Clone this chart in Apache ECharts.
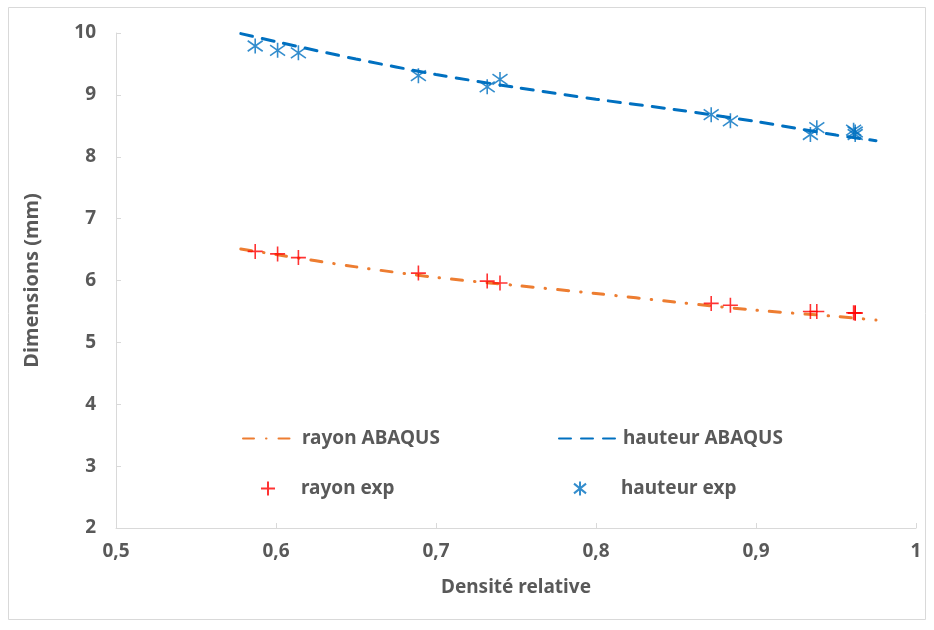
<!DOCTYPE html>
<html>
<head>
<meta charset="utf-8">
<script src="https://cdn.jsdelivr.net/npm/echarts@6/dist/echarts.min.js"></script>
<style>html,body{margin:0;padding:0;background:#fff}#c{width:934px;height:630px}</style>
</head>
<body>
<div id="c"></div>
<script>
// ---- data ----
var abaqusX = [0.578, 0.6, 0.65, 0.7, 0.75, 0.8, 0.85, 0.9, 0.95, 0.975];
var rayonAbaqus = [6.51, 6.42, 6.22, 6.05, 5.92, 5.79, 5.65, 5.52, 5.42, 5.36];
var hauteurAbaqus = [9.99, 9.86, 9.58, 9.33, 9.12, 8.93, 8.76, 8.57, 8.35, 8.26];
var expX = [0.587, 0.601, 0.614, 0.689, 0.732, 0.740, 0.872, 0.884, 0.934, 0.938, 0.961, 0.962, 0.962];
var rayonExp = [6.47, 6.43, 6.37, 6.12, 5.99, 5.96, 5.63, 5.60, 5.50, 5.50, 5.48, 5.47, 5.48];
var hauteurExp = [9.79, 9.72, 9.68, 9.31, 9.13, 9.25, 8.68, 8.58, 8.36, 8.47, 8.43, 8.36, 8.40];
var xTicks = {0.5: '0,5', 0.6: '0,6', 0.7: '0,7', 0.8: '0,8', 0.9: '0,9', 1: '1'};
var names = ['rayon ABAQUS', 'hauteur ABAQUS', 'rayon exp', 'hauteur exp'];

function pairs(xs, ys) { return xs.map(function (x, i) { return [x, ys[i]]; }); }

var FONT = 'Noto Sans';
var GREY = '#595959';
var plusPath = 'path://M5,0L5,10M0,5L10,5';
var starPath = 'path://M5,0L5,10M0.7,1.5L9.3,8.5M0.7,8.5L9.3,1.5';

function legendBox(name, left, top, w, pad, hideSymbol) {
  var o = {
    data: [name], left: left, top: top, itemWidth: w, itemHeight: 14, itemGap: 0,
    selectedMode: false,
    formatter: '{a|{name}}',
    textStyle: {
      fontFamily: FONT, fontWeight: 'bold', fontSize: 19, color: GREY,
      rich: { a: { fontFamily: FONT, fontWeight: 'bold', fontSize: 19, color: GREY, padding: [0, 0, 0, pad] } }
    }
  };
  if (hideSymbol) o.itemStyle = { opacity: 0 };
  return o;
}

var chart = echarts.init(document.getElementById('c'), null, { renderer: 'canvas' });
chart.setOption({
  animation: false,
  backgroundColor: '#fff',
  graphic: [{ type: 'rect', shape: { x: 8.5, y: 7.5, width: 917, height: 612 }, style: { fill: 'none', stroke: '#d9d9d9', lineWidth: 1 }, silent: true }],
  grid: { left: 116, right: 18, top: 33, bottom: 102 },
  legend: [
    legendBox(names[0], 237, 424, 52, 2, true),
    legendBox(names[1], 553, 424, 59, 0, true),
    legendBox(names[2], 255, 474, 14, 21, false),
    legendBox(names[3], 568, 474, 14, 29, false)
  ],
  xAxis: {
    type: 'value', min: 0.5, max: 1, interval: 0.1,
    name: 'Densité relative', nameLocation: 'middle', nameGap: 50,
    nameTextStyle: { fontFamily: FONT, fontWeight: 'bold', fontSize: 19, color: GREY },
    axisLine: { lineStyle: { color: '#d9d9d9', width: 1 } },
    axisTick: { show: true, inside: true, length: 5, lineStyle: { color: '#d9d9d9' } },
    splitLine: { show: false },
    axisLabel: { margin: 14, fontFamily: FONT, fontWeight: 'bold', fontSize: 19, color: GREY,
      formatter: function (v) { var k = Math.round(v * 10) / 10; return xTicks[k] !== undefined ? xTicks[k] : String(v).replace('.', ','); } }
  },
  yAxis: {
    type: 'value', min: 2, max: 10, interval: 1,
    name: 'Dimensions (mm)', nameLocation: 'middle', nameGap: 74, nameRotate: 90,
    nameTextStyle: { fontFamily: FONT, fontWeight: 'bold', fontSize: 20, color: GREY },
    axisLine: { show: true, lineStyle: { color: '#d9d9d9', width: 1 } },
    axisTick: { show: true, inside: true, length: 5, lineStyle: { color: '#d9d9d9' } },
    splitLine: { show: false },
    axisLabel: { margin: 20, fontFamily: FONT, fontWeight: 'bold', fontSize: 19, color: GREY }
  },
  series: [
    { name: names[0], type: 'line', data: pairs(abaqusX, rayonAbaqus), symbol: 'none', smooth: 0.3,
      itemStyle: { color: '#ED7D31' },
      lineStyle: { color: '#ED7D31', width: 3, type: [11, 12, 0.5, 12], cap: 'round' }, z: 2 },
    { name: names[1], type: 'line', data: pairs(abaqusX, hauteurAbaqus), symbol: 'none', smooth: 0.3,
      itemStyle: { color: '#0070C0' },
      lineStyle: { color: '#0070C0', width: 3, type: [12, 10], cap: 'round' }, z: 2 },
    { name: names[2], type: 'scatter', data: pairs(expX, rayonExp), symbol: plusPath, symbolSize: 15,
      itemStyle: { color: 'rgba(0,0,0,0)', borderColor: '#FF0000', borderWidth: 1.6 }, z: 3 },
    { name: names[3], type: 'scatter', data: pairs(expX, hauteurExp), symbol: starPath, symbolSize: 15,
      itemStyle: { color: 'rgba(0,0,0,0)', borderColor: '#0070C0', borderWidth: 1.6 }, z: 3 }
  ]
});
</script>
</body>
</html>
